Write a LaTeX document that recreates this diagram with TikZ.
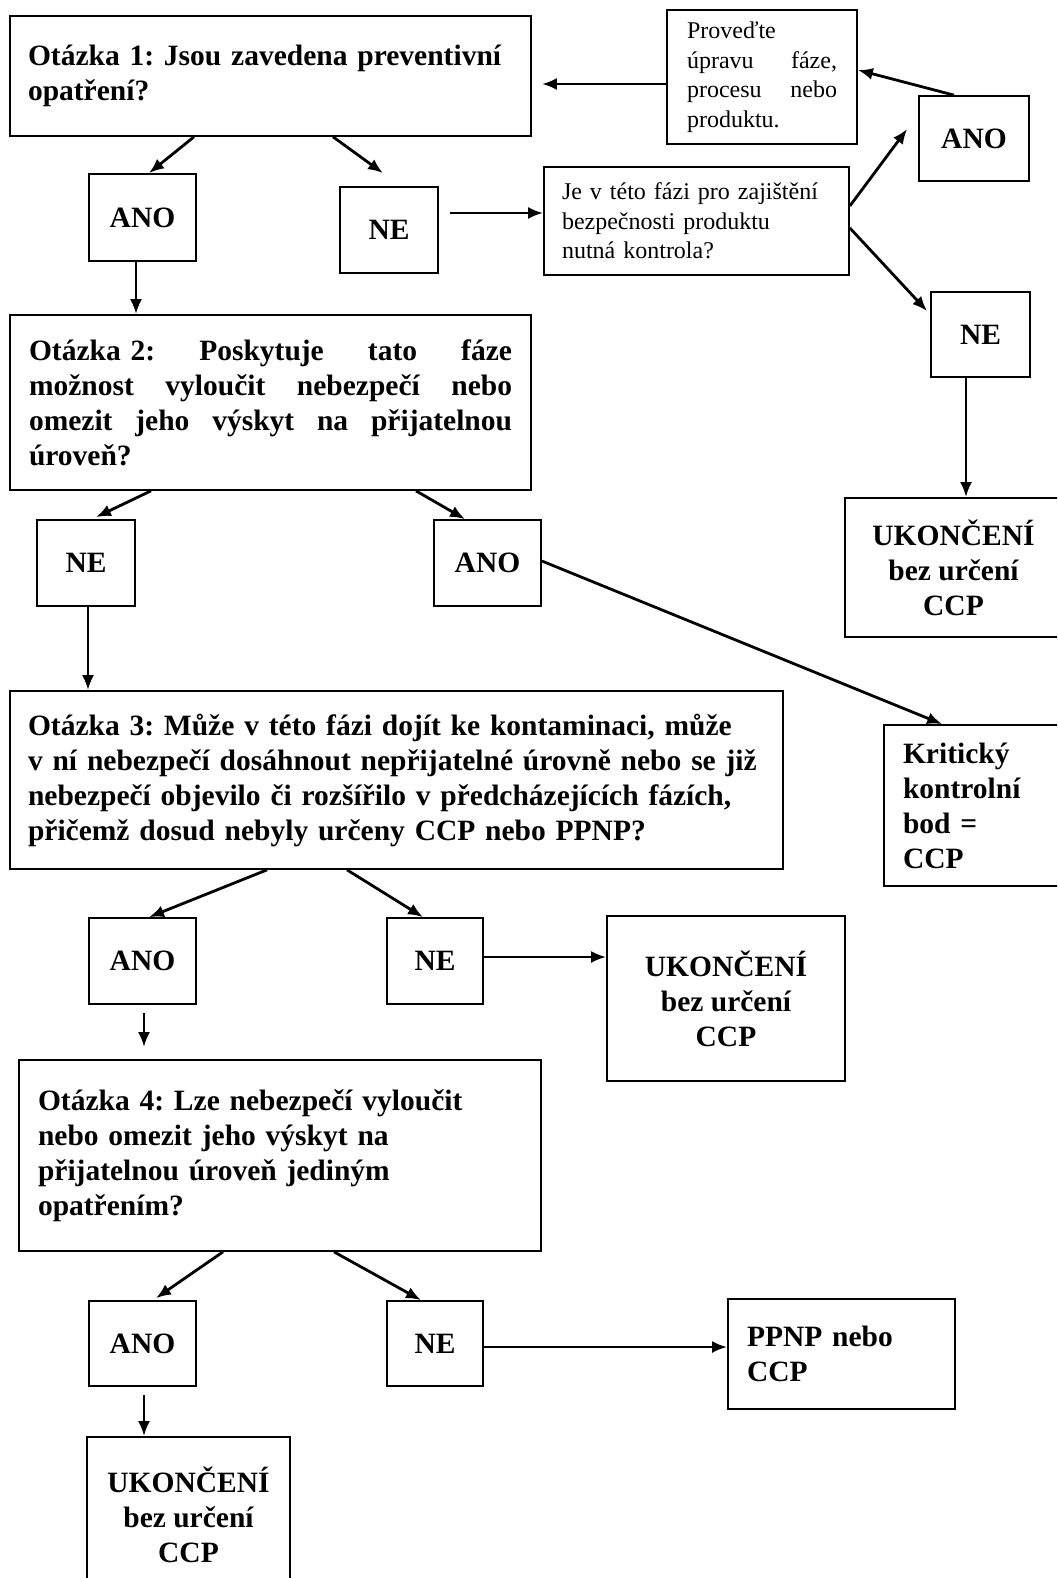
\documentclass[tikz,border=0pt]{standalone}
\usepackage{fontspec}
\setmainfont{Liberation Serif}
\frenchspacing
\usetikzlibrary{arrows.meta}

\begin{document}
\begin{tikzpicture}[x=1pt,y=-1pt,>={Latex[length=15pt,width=12pt]},
  box/.style={draw,line width=1.7pt,inner sep=0pt,font=\fontsize{29.5}{35}\selectfont\bfseries},
  qbox/.style={box,align=left},
  yn/.style={box,align=center},
  plain/.style={draw,line width=1.7pt,inner sep=0pt,align=left,font=\fontsize{24}{29.5}\selectfont},
  arr/.style={->,line width=2.8pt}]
\useasboundingbox (0,0) rectangle (1057,1578);
\clip (0,0) rectangle (1057,1578);
\node[qbox,minimum width=521pt,minimum height=120pt,text width=485pt] (q1) at (270.5,76) {Otázka 1: Jsou zavedena preventivní\\opatření?};
\node[plain,minimum width=190pt,minimum height=134pt,text width=150pt] (uprava) at (762,77) {Proveďte\\úpravu\hspace{\fill}fáze,\\procesu\hspace{\fill}nebo\\produktu.};
\node[yn,minimum width=110pt,minimum height=85pt] (anoR) at (974,138.5) {ANO};
\node[yn,minimum width=107pt,minimum height=87pt] (ano1) at (142.5,217.5) {ANO};
\node[yn,minimum width=98pt,minimum height=86pt] (ne1) at (389,230) {NE};
\node[plain,minimum width=305pt,minimum height=108pt,text width=269pt] (je) at (696.5,221) {Je v této fázi pro zajištění\\bezpečnosti produktu\\nutná kontrola?};
\node[yn,minimum width=99pt,minimum height=85pt] (neR) at (980.5,334.5) {NE};
\node[qbox,minimum width=521pt,minimum height=175pt,text width=483pt] (q2) at (270.5,402.5) {Otázka 2:\hspace{\fill}Poskytuje\hspace{\fill}tato\hspace{\fill}fáze\\možnost\hspace{\fill}vyloučit\hspace{\fill}nebezpečí\hspace{\fill}nebo\\omezit\hspace{\fill}jeho\hspace{\fill}výskyt\hspace{\fill}na\hspace{\fill}přijatelnou\\úroveň?};
\node[yn,minimum width=217pt,minimum height=139pt] (ukR) at (953.5,567.5) {UKONČENÍ\\bez určení\\CCP};
\node[yn,minimum width=98pt,minimum height=86pt] (ne2) at (86,563) {NE};
\node[yn,minimum width=107pt,minimum height=86pt] (ano2) at (487.5,563) {ANO};
\node[qbox,minimum width=773pt,minimum height=178pt,text width=737pt] (q3) at (396.5,780) {Otázka 3: Může v této fázi dojít ke kontaminaci, může\\v ní nebezpečí dosáhnout nepřijatelné úrovně nebo se již\\nebezpečí objevilo či rozšířilo v předcházejících fázích,\\přičemž dosud nebyly určeny CCP nebo PPNP?\\[4pt]};
\node[qbox,minimum width=178pt,minimum height=161pt,text width=140pt] (krit) at (973,805.5) {Kritický\\kontrolní\\bod =\\CCP};
\node[yn,minimum width=107pt,minimum height=86pt] (ano3) at (142.5,961) {ANO};
\node[yn,minimum width=96pt,minimum height=86pt] (ne3) at (435,961) {NE};
\node[yn,minimum width=238pt,minimum height=165pt] (ukM) at (726,998.5) {UKONČENÍ\\bez určení\\CCP};
\node[qbox,minimum width=522pt,minimum height=191pt,text width=484pt] (q4) at (280,1155.5) {Otázka 4: Lze nebezpečí vyloučit\\nebo omezit jeho výskyt na\\přijatelnou úroveň jediným\\opatřením?};
\node[yn,minimum width=107pt,minimum height=85pt] (ano4) at (142.5,1343.5) {ANO};
\node[yn,minimum width=96pt,minimum height=85pt] (ne4) at (435,1343.5) {NE};
\node[qbox,minimum width=227pt,minimum height=110pt,text width=189pt] (ppnp) at (841.5,1354) {PPNP nebo\\CCP\\[24pt]};
\node[yn,minimum width=203pt,minimum height=155pt] (ukB) at (188.5,1514.5) {UKONČENÍ\\bez určení\\CCP};

\draw[arr] ([xshift=-76.5pt]q1.south) -- ([xshift=6.5pt]ano1.north);
\draw[arr] ([xshift=62.5pt]q1.south) -- ([xshift=-6pt,yshift=13pt]ne1.north);
\draw[arr] ([xshift=-6.5pt]ano1.south) -- ([xshift=-6.5pt]ano1.south |- q2.north);
\draw[arr] ([xshift=11pt,yshift=17pt]ne1.east) -- ([yshift=8pt]je.west);
\draw[arr] ([yshift=15pt]je.east) -- ([xshift=-11pt,yshift=9.5pt]anoR.west);
\draw[arr] ([yshift=-7pt]je.east) -- ([xshift=-3pt,yshift=-20pt]neR.north west);
\draw[arr] ([xshift=-20pt]anoR.north) -- ([yshift=7pt]uprava.east);
\draw[arr] ([yshift=-7pt]uprava.west) -- ([xshift=10pt,yshift=-8pt]q1.east);
\draw[arr] ([xshift=-14.5pt]neR.south) -- ([xshift=-14.5pt]neR.south |- ukR.north);
\draw[arr] ([xshift=-119.5pt]q2.south) -- ([xshift=10pt,yshift=2pt]ne2.north);
\draw[arr] ([xshift=145.5pt]q2.south) -- ([xshift=-22.5pt]ano2.north);
\draw[arr] ([xshift=2pt]ne2.south) -- ([xshift=2pt]ne2.south |- q3.north);
\draw[arr] ([yshift=2pt]ano2.east) -- ([xshift=59pt]krit.north west);
\draw[arr] ([xshift=-129.5pt]q3.south) -- ([xshift=6.5pt]ano3.north);
\draw[arr] ([xshift=-49.5pt]q3.south) -- ([xshift=-12pt]ne3.north);
\draw[arr] ([yshift=4pt]ne3.east) -- ([yshift=4pt]ne3.east -| ukM.west);
\draw[arr,shorten <=8pt,shorten >=12pt] ([xshift=1.5pt]ano3.south) -- ([xshift=1.5pt]ano3.south |- q4.north);
\draw[arr] ([xshift=-57pt]q4.south) -- ([xshift=13.5pt,yshift=2pt]ano4.north);
\draw[arr] ([xshift=54pt]q4.south) -- ([xshift=-14pt]ne4.north);
\draw[arr] ([yshift=-3.5pt]ne4.east) -- ([yshift=-3.5pt]ne4.east -| ppnp.west);
\draw[arr,shorten <=8pt] ([xshift=1.5pt]ano4.south) -- ([xshift=1.5pt]ano4.south |- ukB.north);
\end{tikzpicture}
\end{document}
